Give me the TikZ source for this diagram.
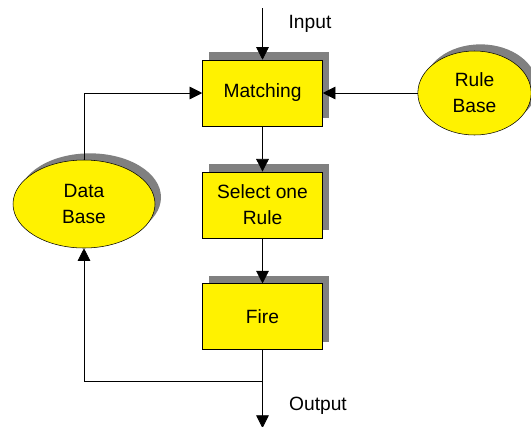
\documentclass[tikz,border=0pt]{standalone}
\usepackage{fontspec}
\setmainfont{Liberation Sans}
\usetikzlibrary{shapes,arrows.meta,positioning,calc,shadows}

\begin{document}
\begin{tikzpicture}[
    x=0.75pt, y=-0.75pt,
    node distance=34pt,
    font=\fontsize{14.4}{19.5}\selectfont,
    block/.style={rectangle, draw, fill=yellow, align=center, minimum width=90pt, minimum height=49.5pt,
        general shadow={fill=black!50, shadow xshift=4.5pt, shadow yshift=6pt}},
    base/.style={ellipse, draw, fill=yellow, align=center, inner sep=0pt,
        general shadow={fill=black!50, shadow xshift=4.5pt, shadow yshift=5pt}},
    line/.style={draw, line width=0.6pt, -{Triangle[length=9.5pt,width=9.5pt]}}
]
    \useasboundingbox (0,0) rectangle (531,426);

    \node [block] (matching) at (262.5,93) {Matching};
    \node [block, below=of matching] (select) {Select one\\Rule};
    \node [block, below=of select] (fire) {Fire};
    \node [base, minimum width=106.5pt, minimum height=66pt] (database) at (84,204) {Data\\Base};
    \node [base, minimum width=85pt, minimum height=63pt] (rulebase) at (474.5,93) {Rule\\Base};

    \node (input) at (310,24) {Input};
    \node (output) at (318,406) {Output};
    \coordinate (in) at (262.5,8);
    \coordinate (out) at (262.5,428);
    \coordinate (back) at (262.5,381);

    \draw [line] (in) -- (matching.north);
    \draw [line] (matching) -- (select);
    \draw [line] (select) -- (fire);
    \draw [line] (fire) -- (out);
    \draw [line] (rulebase.west) -- (matching.east);
    \draw [line] (back) -| (database.south);
    \draw [line] (database.north) |- (matching.west);
\end{tikzpicture}
\end{document}
